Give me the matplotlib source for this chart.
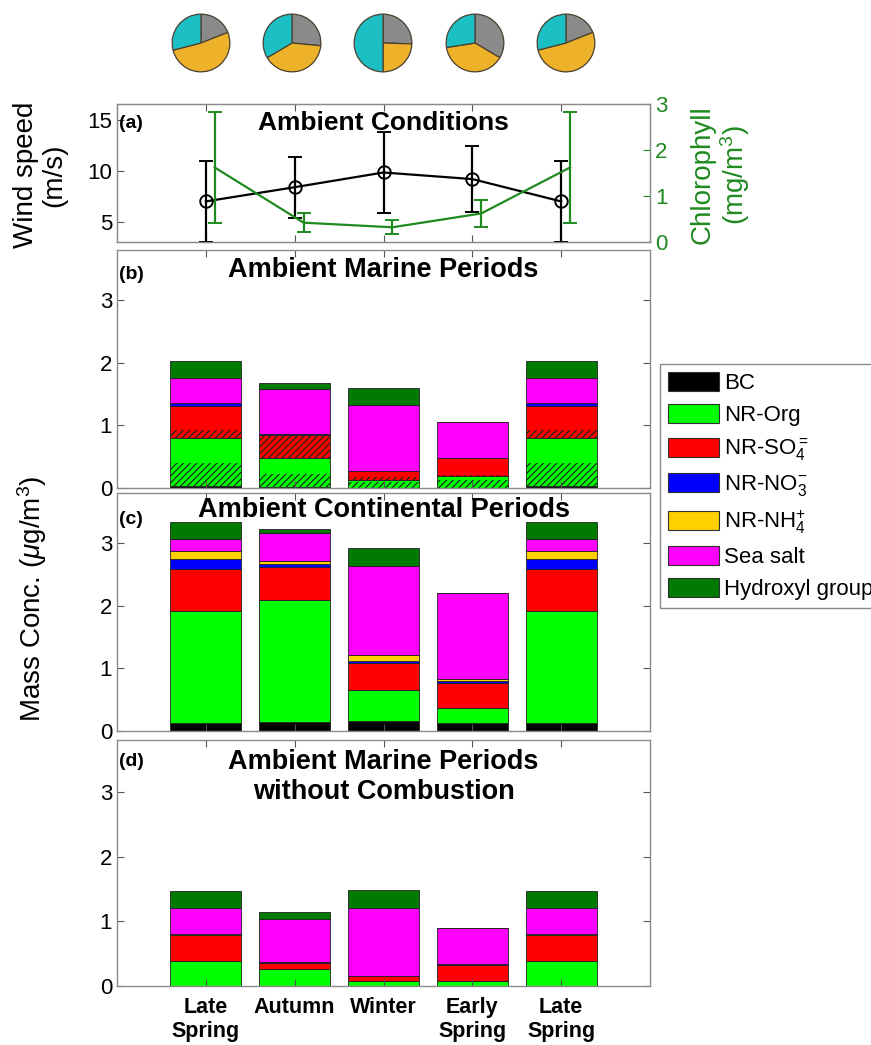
import matplotlib
matplotlib.use('Agg')
import matplotlib.pyplot as plt
from matplotlib.patches import Patch
import numpy as np

plt.rcParams['font.family'] = ['Liberation Sans', 'DejaVu Sans']
plt.rcParams['mathtext.fontset'] = 'custom'
plt.rcParams['mathtext.rm'] = 'Liberation Sans'
plt.rcParams['mathtext.it'] = 'Liberation Sans:italic'
plt.rcParams['mathtext.bf'] = 'Liberation Sans:bold'
plt.rcParams['hatch.linewidth'] = 0.9

seasons = ['Late\nSpring', 'Autumn', 'Winter', 'Early\nSpring', 'Late\nSpring']
x = np.arange(1, 6)

# (a) wind speed and chlorophyll
wind = [7.0, 8.4, 9.85, 9.2, 7.0]
wind_err = [4.0, 3.0, 4.0, 3.25, 4.0]
chl = [1.62, 0.42, 0.32, 0.62, 1.62]
chl_err = [1.21, 0.2, 0.15, 0.3, 1.21]

# pies on top (gray / orange / cyan)
pie_gray = [0.19, 0.265, 0.255, 0.335, 0.19]
pie_orange = [0.52, 0.40, 0.245, 0.39, 0.52]
pie_cyan = [0.29, 0.335, 0.50, 0.275, 0.29]

species = ['BC', 'NR-Org', 'NR-SO$_4^{=}$', 'NR-NO$_3^{-}$', 'NR-NH$_4^{+}$',
           'Sea salt', 'Hydroxyl group']
colors = ['#000000', '#00ff00', '#ff0000', '#0000ff', '#ffd000', '#ff00ff', '#007a00']

# (b) ambient marine
bc_b = [0.03, 0.01, 0.0, 0.0, 0.03]
org_b = [0.77, 0.465, 0.12, 0.19, 0.77]
so4_b = [0.51, 0.375, 0.15, 0.295, 0.51]
no3_b = [0.05, 0.02, 0.0, 0.0, 0.05]
nh4_b = [0.0, 0.0, 0.0, 0.0, 0.0]
ss_b = [0.40, 0.71, 1.06, 0.565, 0.40]
oh_b = [0.27, 0.09, 0.27, 0.0, 0.27]
org_hatch_b = [0.37, 0.22, 0.10, 0.12, 0.37]
so4_hatch_b = [0.12, 0.375, 0.06, 0.02, 0.12]

# (c) ambient continental
bc_c = [0.13, 0.15, 0.16, 0.12, 0.13]
org_c = [1.79, 1.94, 0.49, 0.25, 1.79]
so4_c = [0.67, 0.53, 0.44, 0.40, 0.67]
no3_c = [0.15, 0.05, 0.02, 0.03, 0.15]
nh4_c = [0.13, 0.05, 0.10, 0.03, 0.13]
ss_c = [0.19, 0.44, 1.43, 1.37, 0.19]
oh_c = [0.27, 0.07, 0.28, 0.0, 0.27]

# (d) marine without combustion
bc_d = [0.0, 0.0, 0.0, 0.0, 0.0]
org_d = [0.385, 0.256, 0.077, 0.077, 0.385]
so4_d = [0.405, 0.10, 0.073, 0.253, 0.405]
no3_d = [0.0, 0.01, 0.005, 0.005, 0.0]
nh4_d = [0.01, 0.0, 0.0, 0.0, 0.01]
ss_d = [0.405, 0.676, 1.045, 0.565, 0.405]
oh_d = [0.265, 0.094, 0.28, 0.0, 0.265]

W, H = 871, 1045
fig = plt.figure(figsize=(W / 100, H / 100), dpi=100)

def px_axes(left, top, right, bottom):
    return fig.add_axes([left / W, 1 - bottom / H, (right - left) / W, (bottom - top) / H])

spine_col = '#8a8a8a'

def style(ax):
    for s in ax.spines.values():
        s.set_color(spine_col)
        s.set_linewidth(1.0)
    ax.tick_params(direction='in', top=True, right=True, length=5,
                   color='#555555', labelsize=16, width=0.8)

# ---- panel (a)
axa = px_axes(117, 104, 650, 242)
green = '#1f8a1f'
axa.errorbar(x, wind, yerr=wind_err, color='black', lw=1.6, marker='o', ms=9,
             mfc='none', mec='black', mew=1.4, capsize=5, capthick=1.4, zorder=3)
axa.set_xlim(0, 6)
axa.set_ylim(3, 16.6)
axa.set_yticks([5, 10, 15])
axa.set_xticks(x)
axa.set_xticklabels([])
style(axa)
axa.tick_params(right=False)
axa.text(0.004, 0.86, '(a)', transform=axa.transAxes, fontsize=14, fontweight='bold', va='center')
axa.text(0.5, 0.86, 'Ambient Conditions', transform=axa.transAxes, fontsize=19,
         fontweight='bold', ha='center', va='center')

axa2 = axa.twinx()
axa2.errorbar(x + 0.1, chl, yerr=chl_err, color=green, lw=1.6, capsize=5, capthick=1.4)
axa2.set_ylim(0, 3)
axa2.set_yticks([0, 1, 2, 3])
for s in axa2.spines.values():
    s.set_color(spine_col)
axa2.tick_params(direction='in', length=5, labelsize=16, colors=green, width=0.8)
axa2.spines['right'].set_color(spine_col)

fig.text(40 / W, 1 - 175 / H, 'Wind speed\n(m/s)', rotation=90, ha='center', va='center',
         fontsize=20, linespacing=1.1)
fig.text(721 / W, 1 - 175 / H, 'Chlorophyll\n(mg/m$^3$)', rotation=90, ha='center', va='center',
         fontsize=20, color=green, linespacing=1.1)

# ---- pies
pie_cx = [201, 292, 383, 475, 566]
for i in range(5):
    axp = px_axes(pie_cx[i] - 30, 43 - 30, pie_cx[i] + 30, 43 + 30)
    axp.pie([pie_gray[i], pie_orange[i], pie_cyan[i]],
            colors=['#8a8a8a', '#edb12a', '#1cbfc4'], startangle=90, counterclock=False,
            wedgeprops=dict(edgecolor='#4a4030', linewidth=0.9))
    axp.set_xlim(-1.04, 1.04)
    axp.set_ylim(-1.04, 1.04)
    axp.set_aspect('equal')
    axp.axis('off')

# ---- stacked panels
def stacked(ax, parts, hatch_parts=None):
    bottom = np.zeros(5)
    bases = []
    for vals, col in zip(parts, colors):
        vals = np.array(vals)
        bases.append(bottom.copy())
        ax.bar(x, vals, 0.8, bottom=bottom, color=col, edgecolor='#202020', linewidth=0.6)
        bottom = bottom + vals
    if hatch_parts:
        for idx, hv in hatch_parts:
            ax.bar(x, hv, 0.8, bottom=bases[idx], facecolor='none', edgecolor='#1a2a1a',
                   hatch='/////', linewidth=0)
    ax.set_xlim(0, 6)
    ax.set_ylim(0, 3.8)
    ax.set_yticks([0, 1, 2, 3])
    ax.set_xticks(x)
    style(ax)

axb = px_axes(117, 250, 650, 488)
stacked(axb, [bc_b, org_b, so4_b, no3_b, nh4_b, ss_b, oh_b],
        hatch_parts=[(1, org_hatch_b), (2, so4_hatch_b)])
axb.set_xticklabels([])
axb.text(0.004, 0.895, '(b)', transform=axb.transAxes, fontsize=14, fontweight='bold', va='center')
axb.text(0.5, 0.916, 'Ambient Marine Periods', transform=axb.transAxes, fontsize=19.5,
         fontweight='bold', ha='center', va='center')

axc = px_axes(117, 493, 650, 731)
stacked(axc, [bc_c, org_c, so4_c, no3_c, nh4_c, ss_c, oh_c])
axc.set_xticklabels([])
axc.text(0.004, 0.887, '(c)', transform=axc.transAxes, fontsize=14, fontweight='bold', va='center')
axc.text(0.5, 0.929, 'Ambient Continental Periods', transform=axc.transAxes, fontsize=19.5,
         fontweight='bold', ha='center', va='center')

axd = px_axes(117, 740, 650, 986)
stacked(axd, [bc_d, org_d, so4_d, no3_d, nh4_d, ss_d, oh_d])
axd.set_xticklabels(seasons, fontsize=15.5, fontweight='bold', linespacing=1.15)
axd.tick_params(axis='x', pad=8)
axd.text(0.004, 0.912, '(d)', transform=axd.transAxes, fontsize=14, fontweight='bold', va='center')
axd.text(0.5, 0.848, 'Ambient Marine Periods\nwithout Combustion', transform=axd.transAxes,
         fontsize=19.5, fontweight='bold', ha='center', va='center', linespacing=1.2)

fig.text(32 / W, 1 - 599 / H, 'Mass Conc. ($\\mu$g/m$^3$)', rotation=90, ha='center',
         va='center', fontsize=20)

handles = [Patch(facecolor=c, edgecolor='#303030', linewidth=0.8) for c in colors]
leg = fig.legend(handles, species, loc='upper left', bbox_to_anchor=(660 / W, 1 - 364 / H),
                 borderaxespad=0, fontsize=16, handlelength=2.3, handleheight=0.95,
                 handletextpad=0.25, labelspacing=0.45, borderpad=0.35, fancybox=False,
                 edgecolor='#8a8a8a', framealpha=1)
leg.get_frame().set_linewidth(1.0)

fig.savefig('out.png', dpi=100)
